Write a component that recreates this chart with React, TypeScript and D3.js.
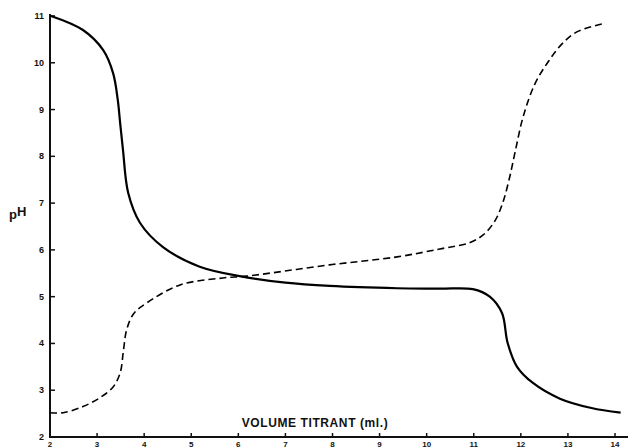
import React, { useEffect, useRef } from "react";
import * as d3 from "d3";

// readings: volume titrant (ml.) vs pH
const solidVol = [2.02, 2.7, 3.13, 3.34, 3.44, 3.49, 3.55, 3.66, 3.91, 4.4, 5.18, 6.03, 7.0, 7.94, 9.37, 10.28, 10.98, 11.34, 11.6, 11.72, 11.92, 12.25, 12.83, 13.5, 14.12];
const solidPH = [11.0, 10.7, 10.27, 9.78, 9.2, 8.71, 8.14, 7.22, 6.58, 6.06, 5.64, 5.44, 5.3, 5.23, 5.18, 5.17, 5.16, 5.0, 4.65, 4.01, 3.5, 3.16, 2.82, 2.62, 2.52];

const dashVol = [2.0, 2.28, 2.7, 3.06, 3.34, 3.49, 3.56, 3.63, 3.78, 4.06, 4.76, 5.67, 6.18, 7.94, 9.37, 10.28, 10.9, 11.2, 11.45, 11.62, 11.75, 11.88, 12.05, 12.3, 12.6, 12.89, 13.19, 13.72];
const dashPH = [2.52, 2.52, 2.65, 2.84, 3.07, 3.37, 3.85, 4.3, 4.64, 4.87, 5.25, 5.4, 5.44, 5.68, 5.85, 6.02, 6.15, 6.32, 6.62, 7.02, 7.5, 8.1, 8.85, 9.55, 10.05, 10.42, 10.66, 10.83];

const xTicks = [2, 3, 4, 5, 6, 7, 8, 9, 10, 11, 12, 13, 14];
const yTicks = [2, 3, 4, 5, 6, 7, 8, 9, 10, 11];

const W = 635;
const H = 448;

export default function App() {
  const svgRef = useRef<SVGSVGElement>(null);

  useEffect(() => {
    const svg = d3.select(svgRef.current);
    svg.selectAll("*").remove();

    const x = d3.scaleLinear().domain([2, 14]).range([50, 615]);
    const y = d3.scaleLinear().domain([2, 11]).range([437, 16]);

    const font = "'Liberation Sans', Arial, sans-serif";

    // axes lines
    svg.append("line")
      .attr("x1", 50).attr("x2", 50)
      .attr("y1", y(2)).attr("y2", y(11) - 2)
      .attr("stroke", "#111").attr("stroke-width", 2);
    svg.append("line")
      .attr("x1", 49).attr("x2", 628)
      .attr("y1", y(2)).attr("y2", y(2))
      .attr("stroke", "#111").attr("stroke-width", 2);

    // y ticks (inward)
    svg.selectAll(".yt").data(yTicks).enter().append("line")
      .attr("x1", 50).attr("x2", 55)
      .attr("y1", d => y(d)).attr("y2", d => y(d))
      .attr("stroke", "#111").attr("stroke-width", 1.5);
    svg.selectAll(".yl").data(yTicks).enter().append("text")
      .attr("x", 44).attr("y", d => y(d) + 3)
      .attr("text-anchor", "end")
      .attr("font-family", font).attr("font-weight", "bold").attr("font-size", 9)
      .attr("fill", "#111")
      .text(d => d);

    // x ticks (inward)
    svg.selectAll(".xt").data(xTicks).enter().append("line")
      .attr("x1", d => x(d)).attr("x2", d => x(d))
      .attr("y1", y(2)).attr("y2", y(2) - 4)
      .attr("stroke", "#111").attr("stroke-width", 1.5);
    svg.selectAll(".xl").data(xTicks).enter().append("text")
      .attr("x", d => x(d)).attr("y", 447)
      .attr("text-anchor", "middle")
      .attr("font-family", font).attr("font-weight", "bold").attr("font-size", 8)
      .attr("fill", "#111")
      .text(d => d);

    // labels
    svg.append("text")
      .attr("x", 315).attr("y", 427)
      .attr("text-anchor", "middle")
      .attr("font-family", font).attr("font-weight", "bold").attr("font-size", 12)
      .attr("letter-spacing", 0.6)
      .attr("fill", "#111")
      .text("VOLUME TITRANT (ml.)");
    const ph = svg.append("text")
      .attr("x", 9).attr("y", 219)
      .attr("font-family", font).attr("font-weight", "bold").attr("font-size", 13)
      .attr("fill", "#111");
    ph.append("tspan").text("p");
    ph.append("tspan").attr("dy", -3).text("H");

    const line = d3.line<[number, number]>()
      .x(d => x(d[0])).y(d => y(d[1]))
      .curve(d3.curveCatmullRom.alpha(0.5));

    const solid = solidVol.map((v, i) => [v, solidPH[i]] as [number, number]);
    const dashed = dashVol.map((v, i) => [v, dashPH[i]] as [number, number]);

    svg.append("path").attr("d", line(solid))
      .attr("fill", "none").attr("stroke", "#000").attr("stroke-width", 2.2);
    svg.append("path").attr("d", line(dashed))
      .attr("fill", "none").attr("stroke", "#000").attr("stroke-width", 1.6)
      .attr("stroke-dasharray", "7,4");
  }, []);

  return (
    <svg ref={svgRef} width={W} height={H}
      style={{ position: "absolute", left: 0, top: 0, background: "#fff" }} />
  );
}
